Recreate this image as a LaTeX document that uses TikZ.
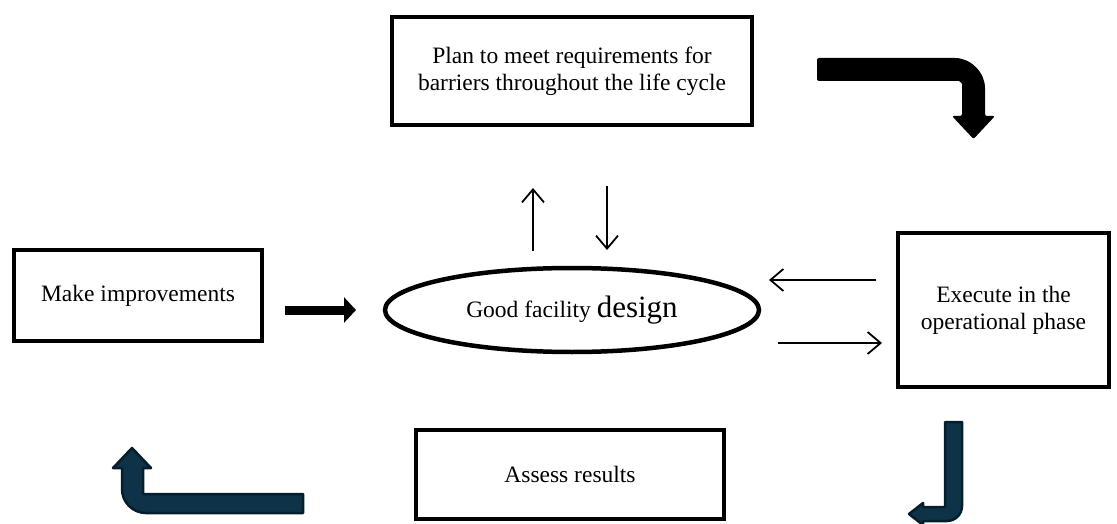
\documentclass[tikz,border=0pt]{standalone}
\usepackage{fontspec}
\setmainfont{Liberation Serif}
\usetikzlibrary{arrows.meta,shapes.geometric}
\definecolor{navyfill}{RGB}{14,50,72}
\definecolor{navyline}{RGB}{5,30,44}
\tikzset{
  box/.style={draw,line width=4.5pt,align=center,inner sep=0pt,font=\fontsize{23.5}{27}\selectfont},
  thinarrow/.style={line width=1.8pt,-{Straight Barb[length=13pt,width=22pt]}},
  navyarrow/.style={draw=navyline,fill=navyfill,line width=2.5pt,line join=round},
}
\begin{document}
\begin{tikzpicture}[x=1pt,y=-1pt]
                \useasboundingbox (0,0) rectangle (1117,524);

                % boxes
                \node[box,minimum width=360pt,minimum height=108pt] (plan) at(572,71) {Plan to meet requirements for\\barriers throughout the life cycle};
                \node[box,minimum width=248pt,minimum height=91pt] (make) at(138,295.5) {Make improvements};
                \node[box,minimum width=211pt,minimum height=154pt] (exec) at(1003.5,310) {Execute in the\\operational phase};
                \node[box,minimum width=308pt,minimum height=89pt] (assess) at(570,474.5) {Assess results};
                \node[draw,ellipse,line width=4.5pt,minimum width=374pt,minimum height=84pt,inner sep=0pt,font=\fontsize{23.5}{27}\selectfont] (good) at(572,310) {Good facility {\fontsize{31}{31}\selectfont design}};

                % thin arrows
                \coordinate (up-s) at(533,251);
                \coordinate (up-e) at(533,188);
                \coordinate (dn-s) at(607,186);
                \coordinate (dn-e) at(607,250);
                \coordinate (lt-s) at(876,280);
                \coordinate (lt-e) at(769,280);
                \coordinate (rt-s) at(778,343);
                \coordinate (rt-e) at(882,343);
                \draw[thinarrow] (up-s)--(up-e);
                \draw[thinarrow] (dn-s)--(dn-e);
                \draw[thinarrow] (lt-s)--(lt-e);
                \draw[thinarrow] (rt-s)--(rt-e);

                % thick arrow
                \coordinate (mi-s) at(285,310);
                \coordinate (mi-e) at(356,310);
                \draw[line width=9pt,-{Triangle[length=12pt,width=25pt]}] (mi-s)--(mi-e);

                % bent arrows
                \fill[black,rounded corners=2pt] (817,58)--(953,58) arc(270:360:32)--(985,116)--(995,116)--(973.5,139)--(952,116)--(962,116)--(962,86) arc(0:-90:5)--(817,81)--cycle;
                \draw[navyarrow] (945,422)--(962,422)--(962,506) arc(0:90:15)--(923,521)--(923,525)--(909,514)--(923,503)--(923,507)--(945,507)--cycle;
                \draw[navyarrow] (303,494)--(303,513)--(146,513) arc(90:180:24)--(122,468)--(113,468)--(132,448)--(151,468)--(143,468)--(143,494)--cycle;
            \end{tikzpicture}
\end{document}
